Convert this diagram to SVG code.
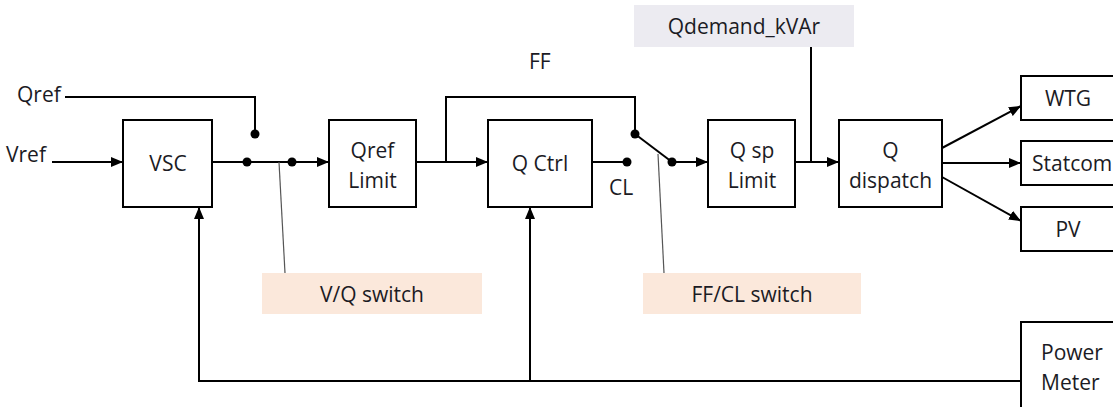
<svg xmlns="http://www.w3.org/2000/svg" width="1113" height="407" viewBox="0 0 1113 407">
  <style>
    .blk { fill: #ffffff; stroke: #000000; stroke-width: 2; }
    .txt { font-family: "Open Sans", "Noto Sans", sans-serif; font-size: 21px; fill: #1b1b24; }
    .mid { text-anchor: middle; }
    .wire { fill: none; stroke: #000000; stroke-width: 2; }
    .lead { fill: none; stroke: #555555; stroke-width: 1.2; }
    .dot { fill: #000000; }
  </style>
  <defs>
    <marker id="arr" viewBox="0 0 12 10" refX="12" refY="5" markerWidth="12" markerHeight="10" markerUnits="userSpaceOnUse" orient="auto">
      <path d="M0,0 L12,5 L0,10 Z" fill="#000000"/>
    </marker>
  </defs>
  <rect width="1113" height="407" fill="#ffffff"/>

  <!-- connectors -->
  <g id="connectors">
    <path class="wire" d="M52,162 H123" marker-end="url(#arr)"/>
    <path class="wire" d="M65,97 H255 V134"/>
    <path class="wire" d="M212,162 H329" marker-end="url(#arr)"/>
    <path class="wire" d="M416,162 H488" marker-end="url(#arr)"/>
    <path class="wire" d="M446,162 V97 H635 V134"/>
    <path class="wire" d="M592,162 H627"/>
    <path class="wire" d="M635,134 L672,162"/>
    <path class="wire" d="M672,162 H708" marker-end="url(#arr)"/>
    <path class="wire" d="M795,162 H839" marker-end="url(#arr)"/>
    <path class="wire" d="M811,46 V162"/>
    <path class="wire" d="M942,148 L1021,106" marker-end="url(#arr)"/>
    <path class="wire" d="M942,163 H1021" marker-end="url(#arr)"/>
    <path class="wire" d="M942,177 L1021,221" marker-end="url(#arr)"/>
    <path class="wire" d="M1021,381 H199 V207" marker-end="url(#arr)"/>
    <path class="wire" d="M530,381 V207" marker-end="url(#arr)"/>
    <path class="lead" d="M279,162 L285,273"/>
    <path class="lead" d="M658,154 L664,273"/>
    <circle class="dot" cx="255" cy="134" r="4.5"/>
    <circle class="dot" cx="247" cy="162" r="4.5"/>
    <circle class="dot" cx="292" cy="162" r="4.5"/>
    <circle class="dot" cx="627" cy="162" r="4.5"/>
    <circle class="dot" cx="635" cy="134" r="4.5"/>
    <circle class="dot" cx="672" cy="162" r="4.5"/>
  </g>

  <!-- free labels -->
  <text class="txt" x="17" y="102">Qref</text>
  <text class="txt" x="6" y="162">Vref</text>
  <text class="txt" x="529" y="69">FF</text>
  <text class="txt" x="609" y="195">CL</text>

  <g id="vq-switch">
    <rect x="262" y="273" width="220" height="41" fill="#fbe8db"/>
    <text class="txt mid" x="372" y="302">V/Q switch</text>
  </g>
  <g id="ffcl-switch">
    <rect x="643" y="273" width="218" height="41" fill="#fbe8db"/>
    <text class="txt mid" x="752" y="302">FF/CL switch</text>
  </g>
  <g id="qdemand">
    <rect x="634" y="5" width="220" height="42" fill="#ecebf1"/>
    <text class="txt mid" x="744" y="34">Qdemand_kVAr</text>
  </g>

  <g id="vsc">
    <rect class="blk" x="123" y="120" width="89" height="87"/>
    <text class="txt mid" x="168" y="171">VSC</text>
  </g>
  <g id="qref-limit">
    <rect class="blk" x="329" y="120" width="87" height="87"/>
    <text class="txt mid" x="372.5" y="158">Qref</text>
    <text class="txt mid" x="372.5" y="188">Limit</text>
  </g>
  <g id="q-ctrl">
    <rect class="blk" x="488" y="120" width="104" height="87"/>
    <text class="txt mid" x="540" y="171">Q Ctrl</text>
  </g>
  <g id="qsp-limit">
    <rect class="blk" x="708" y="120" width="87" height="87"/>
    <text class="txt mid" x="752" y="158">Q sp</text>
    <text class="txt mid" x="752" y="188">Limit</text>
  </g>
  <g id="q-dispatch">
    <rect class="blk" x="839" y="120" width="103" height="87"/>
    <text class="txt mid" x="890.5" y="158">Q</text>
    <text class="txt mid" x="890.5" y="188">dispatch</text>
  </g>
  <g id="wtg">
    <rect class="blk" x="1021" y="76" width="100" height="44"/>
    <text class="txt mid" x="1068" y="106">WTG</text>
  </g>
  <g id="statcom">
    <rect class="blk" x="1021" y="141" width="100" height="44"/>
    <text class="txt" x="1032" y="171">Statcom</text>
  </g>
  <g id="pv">
    <rect class="blk" x="1021" y="207" width="100" height="44"/>
    <text class="txt mid" x="1068" y="237">PV</text>
  </g>
  <g id="power-meter">
    <rect class="blk" x="1021" y="322" width="100" height="100"/>
    <text class="txt" x="1041" y="360">Power</text>
    <text class="txt" x="1041" y="390">Meter</text>
  </g>
</svg>
